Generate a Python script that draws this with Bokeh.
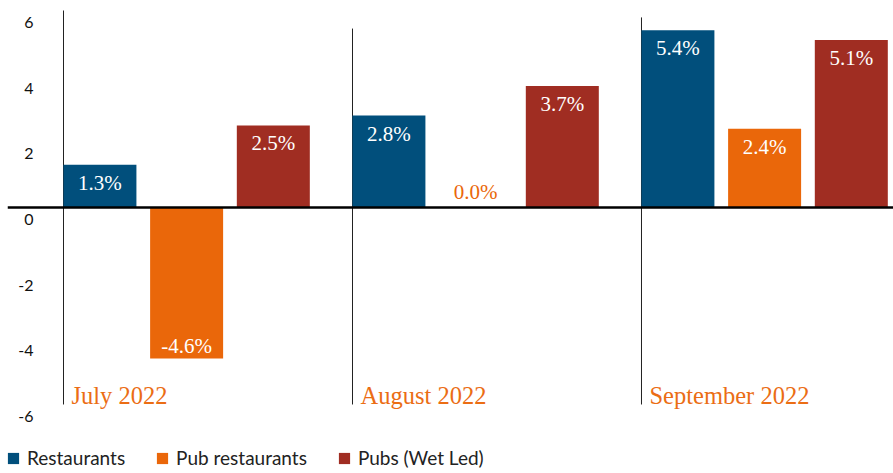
from bokeh.plotting import figure
from bokeh.models import ColumnDataSource, Span, Legend, LegendItem
from bokeh.core.properties import value
from bokeh.embed import file_html
from bokeh.resources import INLINE

# ---- data ----
months = ["July 2022", "August 2022", "September 2022"]
series_names = ["Restaurants", "Pub restaurants", "Pubs (Wet Led)"]
restaurants = [1.3, 2.8, 5.4]
pub_restaurants = [-4.6, 0.0, 2.4]
pubs_wet_led = [2.5, 3.7, 5.1]
y_ticks = [6, 4, 2, 0, -2, -4, -6]

# ---- styles ----
colors = ["#014f7c", "#ea670a", "#a02d22"]
cat_color = "#eb6d14"
serif = "Liberation Serif"
sans = "Lato"
offsets = [0.126, 0.426, 0.726]
bar_w = 0.2526
sep_tops = [6.0, 5.45, 5.79]

p = figure(width=893, height=473, output_backend="svg", toolbar_location=None,
           x_range=(-0.1938, 2.872), y_range=(-8.102, 6.305),
           x_axis_location=None, y_axis_location=None, min_border=0,
           min_border_left=7)
p.outline_line_color = None
p.xgrid.visible = False
p.ygrid.visible = False
p.background_fill_color = "white"
p.border_fill_color = "white"

gx = list(range(len(months)))

# separators
p.segment(x0=gx, x1=gx, y0=[-6] * 3, y1=sep_tops, line_color="#222222", line_width=1)

renderers = []
all_vals = [restaurants, pub_restaurants, pubs_wet_led]
for s, (vals, col, off) in enumerate(zip(all_vals, colors, offsets)):
    xs = [g + off for g in gx]
    src = ColumnDataSource(dict(x=xs, top=vals))
    r = p.vbar(x="x", top="top", bottom=0, width=bar_w, source=src,
               fill_color=col, line_color=None)
    renderers.append(r)
    # value labels
    pos_x, pos_y, pos_t = [], [], []
    neg_x, neg_y, neg_t = [], [], []
    zer_x, zer_y, zer_t = [], [], []
    for x, v in zip(xs, vals):
        t = f"{v:.1f}%"
        if v > 0:
            pos_x.append(x); pos_y.append(v); pos_t.append(t)
        elif v < 0:
            neg_x.append(x); neg_y.append(v); neg_t.append(t)
        else:
            zer_x.append(x); zer_y.append(v); zer_t.append(t)
    common = dict(text_font=value(serif), text_font_size="21px", text_align="center",
                  text_baseline="middle")
    if pos_x:
        p.text(x=pos_x, y=pos_y, text=pos_t, y_offset=18, text_color="white", **common)
    if neg_x:
        p.text(x=neg_x, y=neg_y, text=neg_t, y_offset=-13, text_color="white", **common)
    if zer_x:
        p.text(x=zer_x, y=zer_y, text=zer_t, y_offset=-16, text_color=col, **common)

# zero line
p.add_layout(Span(location=0, dimension="width", line_color="black", line_width=2.5))

# tick labels
p.text(x=[-0.1038] * len(y_ticks), y=y_ticks, text=[str(t) for t in y_ticks],
       y_offset=12, text_align="right", text_baseline="middle",
       text_font=value(sans), text_font_size="16px", text_color="#111111")

# month labels
p.text(x=gx, y=[-6] * 3, text=months, x_offset=8, y_offset=-9,
       text_align="left", text_baseline="middle",
       text_font=value(serif), text_font_size="24.5px", text_color=cat_color)

legend = Legend(items=[LegendItem(label=n, renderers=[r]) for n, r in zip(series_names, renderers)],
                orientation="horizontal", location=(-1, 4), padding=0, margin=0,
                spacing=30, glyph_width=14, glyph_height=14, label_height=14,
                label_standoff=7, border_line_color=None, background_fill_alpha=0,
                label_text_font=sans, label_text_font_size="19px", label_text_color="#222222")
p.add_layout(legend)

open("out.html", "w").write(file_html(p, INLINE))
